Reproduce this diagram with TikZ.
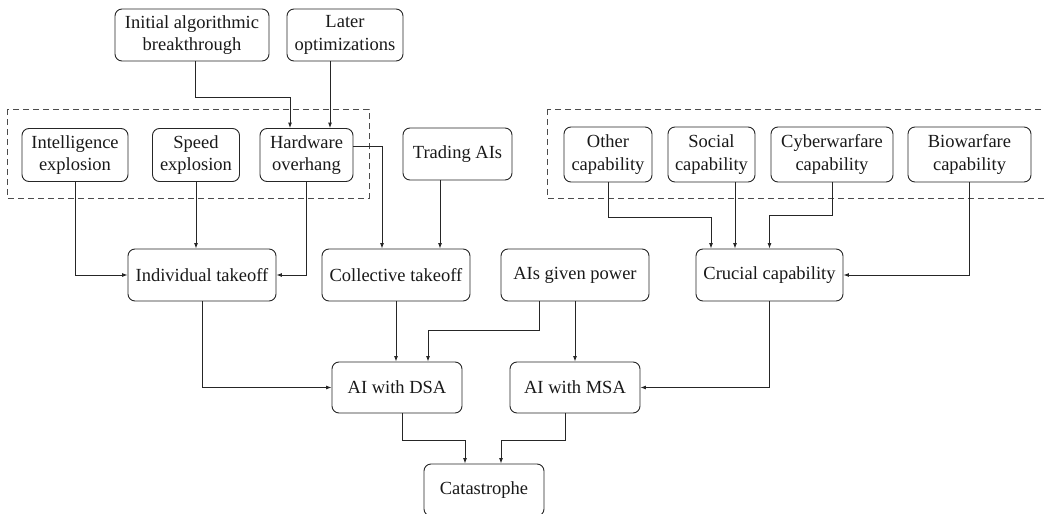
\documentclass[tikz,border=0pt]{standalone}
\usepackage{fontspec}
\setmainfont{Liberation Serif}
\usetikzlibrary{arrows.meta,calc}
\begin{document}
\begin{tikzpicture}[x=1pt,y=-1pt,
  box/.style={draw=black!85, line width=0.9pt, rounded corners=7pt, inner sep=0pt,
    align=center, font=\fontsize{18.5}{22.5}\selectfont, text=black!90},
  arr/.style={draw=black!85, line width=0.9pt, -{Latex[length=5.5pt,width=4pt]}},
  dashbox/.style={draw=black!70, line width=0.9pt, dash pattern=on 6pt off 4pt}]
\useasboundingbox (0,0) rectangle (1045,514);
\clip (0,0) rectangle (1045,514);
% dashed groups
\draw[dashbox] (7,109) rectangle (369,198);
\draw[dashbox] (547,109) rectangle (1065,198);
% nodes
\node[box, minimum width=154, minimum height=52] (ib) at (192,35) {Initial algorithmic\\breakthrough};
\node[box, minimum width=116, minimum height=52] (lo) at (345,35) {Later\\optimizations};
\node[box, minimum width=106, minimum height=53] (ie) at (75,155) {Intelligence\\explosion};
\node[box, minimum width=87, minimum height=53] (se) at (196,155) {Speed\\explosion};
\node[box, minimum width=93, minimum height=53] (hw) at (306.5,155) {Hardware\\overhang};
\node[box, minimum width=109, minimum height=52] (tr) at (457.5,154) {Trading AIs};
\node[box, minimum width=88, minimum height=55] (oc) at (608,154.5) {Other\\capability};
\node[box, minimum width=87, minimum height=55] (sc) at (711.5,154.5) {Social\\capability};
\node[box, minimum width=122, minimum height=55] (cw) at (832,154.5) {Cyberwarfare\\capability};
\node[box, minimum width=123, minimum height=55] (bw) at (969.5,154.5) {Biowarfare\\capability};
\node[box, minimum width=148, minimum height=52] (it) at (202,275) {Individual takeoff};
\node[box, minimum width=148, minimum height=52] (ct) at (396,275) {Collective takeoff};
\node[box, minimum width=148, minimum height=52] (ap) at (575,275) {AIs given power};
\node[box, minimum width=147, minimum height=52] (cc) at (769.5,275) {Crucial capability};
\node[box, minimum width=130, minimum height=51] (dsa) at (397,387.5) {AI with DSA};
\node[box, minimum width=130, minimum height=51] (msa) at (575,387.5) {AI with MSA};
\node[box, minimum width=120, minimum height=52] (cat) at (484,490) {Catastrophe};
% connectors
\draw[arr] ($(ib.south)+(3,0)$) -- ++(0,36) -| ($(hw.north)+(-16.5,0)$);
\draw[arr] ($(lo.south)+(-15,0)$) -- ($(hw.north)+(23.5,0)$);
\draw[arr] (ie.south) |- (it.west);
\draw[arr] (se.south) -- (se.south |- it.north);
\draw[arr] (hw.south) |- (it.east);
\draw[arr] ($(hw.east)+(0,-9)$) -| ($(ct.north)+(-14,0)$);
\draw[arr] ($(tr.south)+(-17.5,0)$) -- ($(ct.north)+(44,0)$);
\draw[arr] (it.south) |- (dsa.west);
\draw[arr] (ct.south) -- (ct.south |- dsa.north);
\draw[arr] ($(ap.south)+(-36,0)$) -- ++(0,29) -| ($(dsa.north)+(31,0)$);
\draw[arr] (ap.south) -- (msa.north);
\draw[arr] (cc.south) |- (msa.east);
\draw[arr] (oc.south) -- ++(0,35) -| ($(cc.north)+(-58.5,0)$);
\draw[arr] ($(sc.south)+(23.5,0)$) -- ($(cc.north)+(-34.5,0)$);
\draw[arr] (cw.south) -- ++(0,33) -| (cc.north);
\draw[arr] (bw.south) |- (cc.east);
\draw[arr] ($(dsa.south)+(5,0)$) -- ++(0,27) -| ($(cat.north)+(-19,0)$);
\draw[arr] ($(msa.south)+(-10,0)$) -- ++(0,27) -| ($(cat.north)+(17,0)$);
\end{tikzpicture}
\end{document}
